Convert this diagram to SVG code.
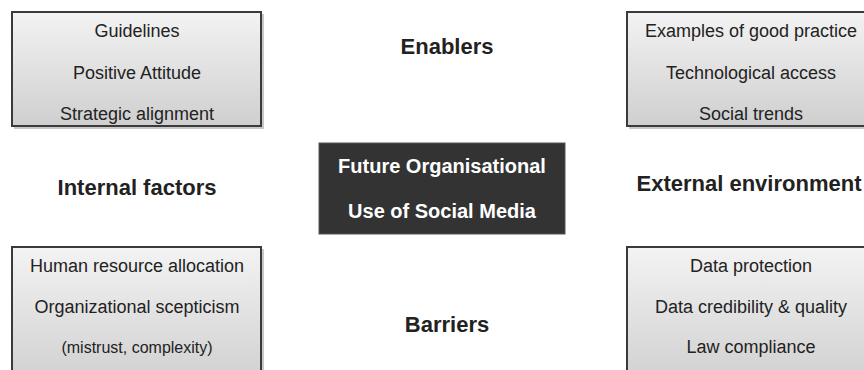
<svg xmlns="http://www.w3.org/2000/svg" width="864" height="370" viewBox="0 0 864 370">
<defs>
<linearGradient id="g" x1="0" y1="0" x2="0" y2="1">
<stop offset="0" stop-color="#f3f3f3"/>
<stop offset="1" stop-color="#cfcfcf"/>
</linearGradient>
</defs>
<style>
.box{fill:url(#g);stroke:#3a3a3a;stroke-width:2}
.sh{fill:none;stroke:#c8c8c8;stroke-width:2}
.t{font-family:"Liberation Sans",Arial,sans-serif;font-size:18px;fill:#222;text-anchor:middle}
.s{font-size:16px}
.b{font-family:"Liberation Sans",Arial,sans-serif;font-size:22px;font-weight:bold;fill:#222;text-anchor:middle}
.w{font-family:"Liberation Sans",Arial,sans-serif;font-size:20px;font-weight:bold;fill:#fff;text-anchor:middle}
</style>
<rect width="864" height="370" fill="#fff"/>
<g id="enablers-internal">
<path class="sh" d="M263 14 V128 H14"/>
<rect class="box" x="12" y="12" width="249" height="114"/>
<text class="t" x="137" y="37">Guidelines</text>
<text class="t" x="137" y="79">Positive Attitude</text>
<text class="t" x="137" y="120">Strategic alignment</text>
</g>
<g id="enablers-external">
<path class="sh" d="M629 128 H876"/>
<rect class="box" x="627" y="12" width="249" height="114"/>
<text class="t" x="751" y="37">Examples of good practice</text>
<text class="t" x="751" y="79">Technological access</text>
<text class="t" x="751" y="120">Social trends</text>
</g>
<g id="barriers-internal">
<path class="sh" d="M263 249 V380"/>
<rect class="box" x="12" y="247" width="249" height="140"/>
<text class="t" x="137" y="272">Human resource allocation</text>
<text class="t" x="137" y="313">Organizational scepticism</text>
<text class="t s" x="137" y="353">(mistrust, complexity)</text>
</g>
<g id="barriers-external">
<rect class="box" x="627" y="247" width="249" height="140"/>
<text class="t" x="751" y="272">Data protection</text>
<text class="t" x="751" y="313">Data credibility &amp; quality</text>
<text class="t" x="751" y="353">Law compliance</text>
</g>
<g id="center">
<rect x="319" y="143" width="246" height="91" fill="#333" stroke="#555" stroke-width="1"/>
<text class="w" x="442" y="173">Future Organisational</text>
<text class="w" x="442" y="218">Use of Social Media</text>
</g>
<g id="labels">
<text class="b" x="447" y="54">Enablers</text>
<text class="b" x="447" y="332">Barriers</text>
<text class="b" x="137" y="195">Internal factors</text>
<text class="b" x="749" y="191">External environment</text>
</g>
<g id="connectors"/>
</svg>
